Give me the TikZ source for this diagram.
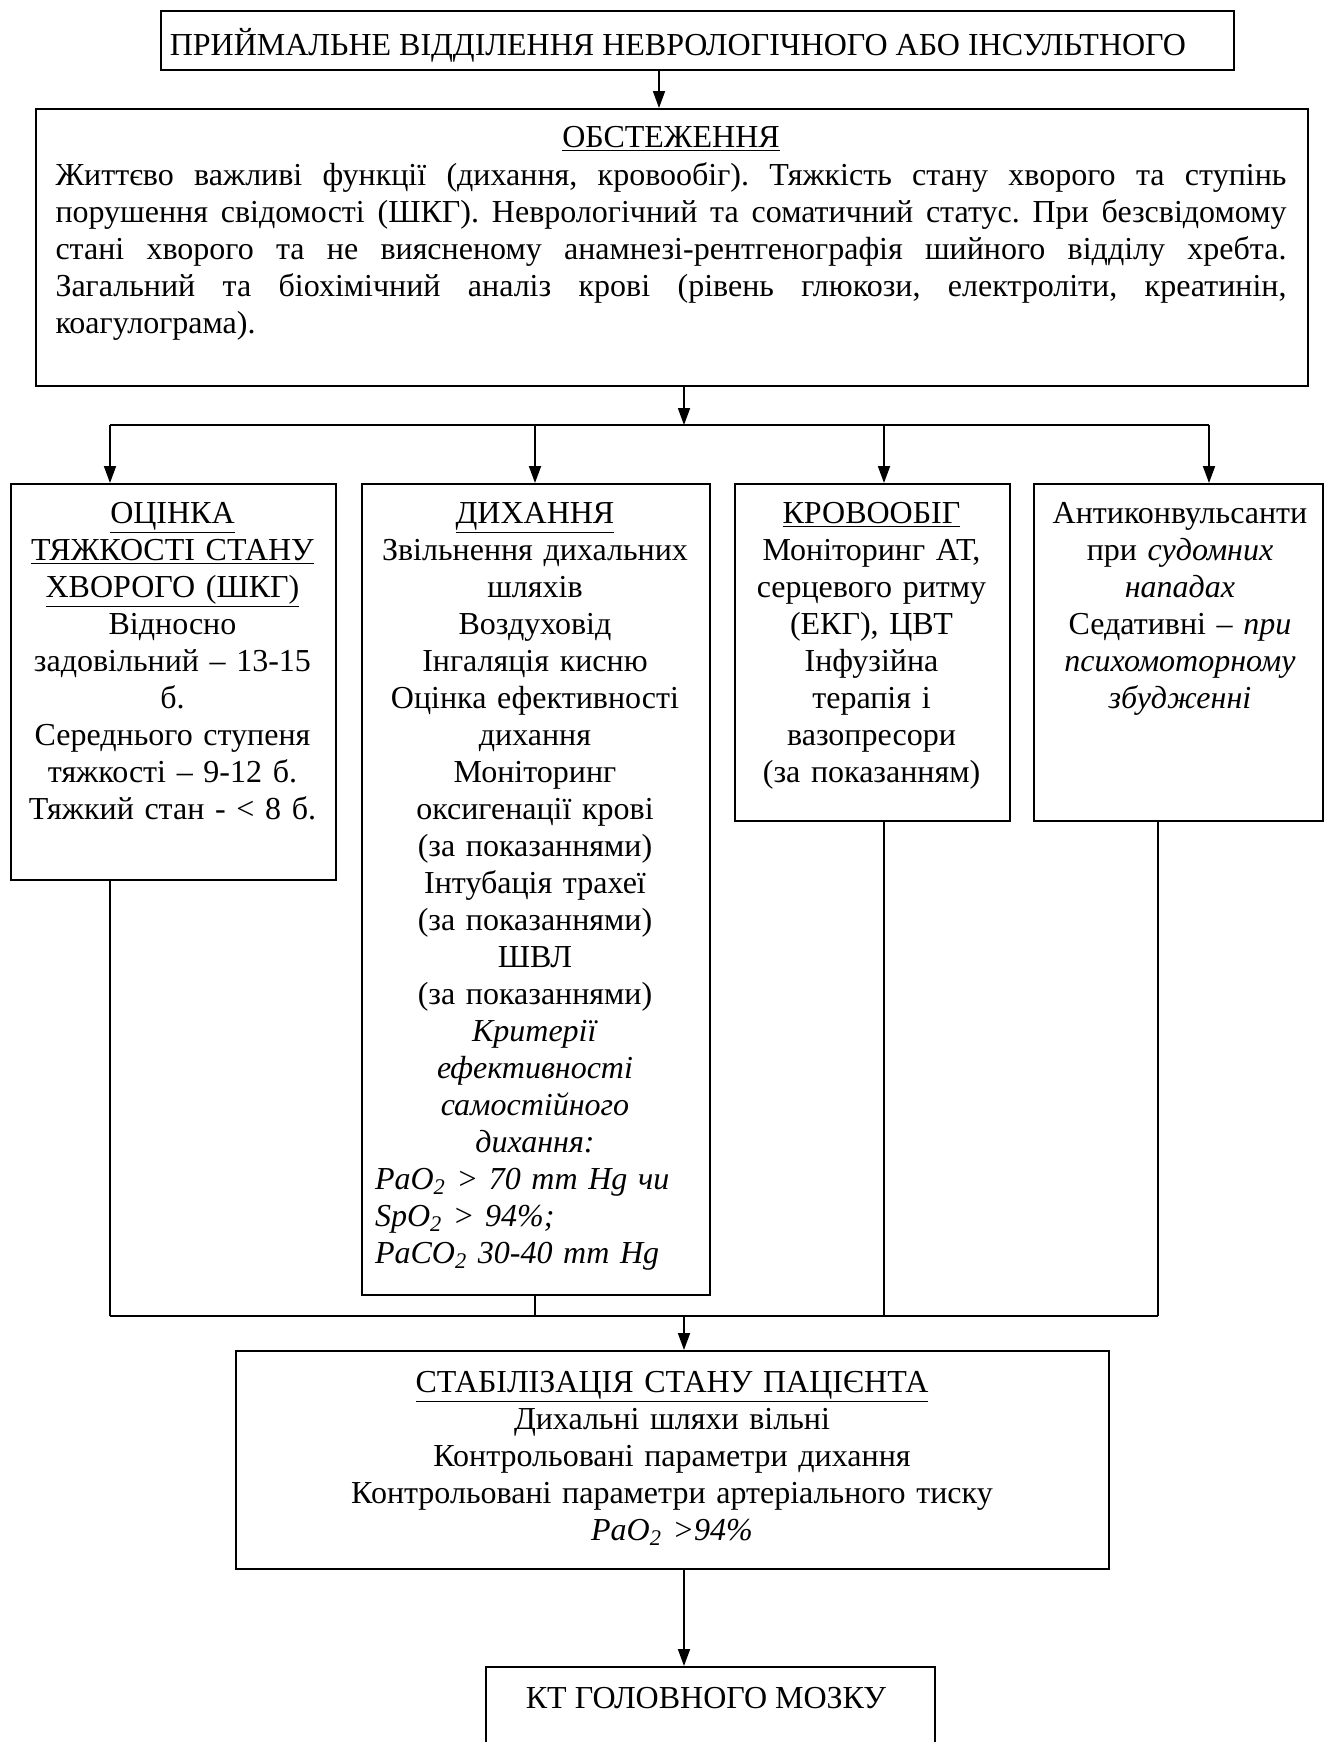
\documentclass[tikz,border=0pt]{standalone}
\usepackage{fontspec}
\setmainfont{Liberation Serif}
\usetikzlibrary{arrows.meta}

\tikzset{
  box/.style={draw, line width=1.1pt, anchor=north west, inner sep=0pt},
  txt/.style={anchor=base, inner sep=0pt, align=center},
  para/.style={txt, text width=#1},
  arr/.style={-{Triangle[length=8.5pt,width=6pt]}, line width=0.9pt},
  wire/.style={line width=0.9pt},
}

\begin{document}
\frenchspacing
\begin{tikzpicture}[x=1pt, y=-1pt, font=\fontsize{16}{18.5}\selectfont]
\useasboundingbox (0,0) rectangle (662,871);

% boxes
\node[box, minimum width=536.5pt, minimum height=29.5pt] (admit) at (80,5) {};
\node[box, minimum width=636pt, minimum height=138.5pt] (exam) at (17.5,54) {};
\node[box, minimum width=162.5pt, minimum height=198pt] (grade) at (5,241.5) {};
\node[box, minimum width=174pt, minimum height=405.5pt] (breath) at (180.5,241.5) {};
\node[box, minimum width=137.5pt, minimum height=168.5pt] (blood) at (367,241.5) {};
\node[box, minimum width=144.5pt, minimum height=168.5pt] (drugs) at (516.5,241.5) {};
\node[box, minimum width=436.5pt, minimum height=109pt] (stab) at (117.5,675) {};
\node[box, minimum width=224.5pt, minimum height=60pt] (ct) at (242.5,833) {};

% texts
\node[txt] (admit-t) at (339,27.5) {ПРИЙМАЛЬНЕ ВІДДІЛЕННЯ НЕВРОЛОГІЧНОГО АБО ІНСУЛЬТНОГО};
\node[txt] (exam-h) at (335.5,73.5) {\underline{ОБСТЕЖЕННЯ}};
\node[para=615.5pt, align=justify] (exam-t) at (335.5,92.5) {Життєво важливі функції (дихання, кровообіг). Тяжкість стану хворого та ступінь\linebreak
  порушення свідомості (ШКГ). Неврологічний та соматичний статус. При безсвідомому\linebreak
  стані хворого та не виясненому анамнезі-рентгенографія шийного відділу хребта.\linebreak
  Загальний та біохімічний аналіз крові (рівень глюкози, електроліти, креатинін,\linebreak
  коагулограма).};
\node[para=152pt] (grade-t) at (86.25,261.5) {\underline{ОЦІНКА}\\ \underline{ТЯЖКОСТІ СТАНУ}\\ \underline{ХВОРОГО (ШКГ)}\\
  Відносно\\ задовільний – 13-15\\ б.\\ Середнього ступеня\\ тяжкості – 9-12 б.\\ Тяжкий стан - < 8 б.};
\node[para=160pt] (breath-t) at (267.5,261.5) {\underline{ДИХАННЯ}\\ Звільнення дихальних\\ шляхів\\ Воздуховід\\
  Інгаляція кисню\\ Оцінка ефективності\\ дихання\\ Моніторинг\\ оксигенації крові\\ (за показаннями)\\
  Інтубація трахеї\\ (за показаннями)\\ ШВЛ\\ (за показаннями)\\ \textit{Критерії}\\ \textit{ефективності}\\
  \textit{самостійного}\\ \textit{дихання:}\par
  \raggedright\itshape PaO\textsubscript{2} > 70 mm Hg чи\\ SpO\textsubscript{2} > 94\%;\\ PaCO\textsubscript{2} 30-40 mm Hg\par};
\node[para=130pt] (blood-t) at (435.75,261.5) {\underline{КРОВООБІГ}\\ Моніторинг АТ,\\ серцевого ритму\\ (ЕКГ), ЦВТ\\
  Інфузійна\\ терапія і\\ вазопресори\\ (за показанням)};
\node[para=140pt] (drugs-t) at (590,261.5) {Антиконвульсанти\\ при \textit{судомних}\\ \textit{нападах}\\
  Седативні – \textit{при}\\ \textit{психомоторному}\\ \textit{збудженні}};
\node[para=420pt] (stab-t) at (336,696) {\underline{СТАБІЛІЗАЦІЯ СТАНУ ПАЦІЄНТА}\\ Дихальні шляхи вільні\\
  Контрольовані параметри дихання\\ Контрольовані параметри артеріального тиску\\ \textit{PaO\textsubscript{2} >94\%}};
\node[txt] (ct-t) at (353,854) {КТ ГОЛОВНОГО МОЗКУ};

% junctions
\coordinate (a0) at (329.5,0);
\coordinate (top) at (342,212.5);
\coordinate (b1) at (55,212.5);
\coordinate (b2) at (267.5,212.5);
\coordinate (b3) at (442,212.5);
\coordinate (b4) at (604.5,212.5);
\coordinate (l1) at (55,658);
\coordinate (l2) at (267.5,658);
\coordinate (l3) at (442,658);
\coordinate (l4) at (579,658);
\coordinate (bot) at (342,658);

% connectors
\draw[arr] (admit.south -| a0) -- (exam.north -| a0);
\draw[arr] (exam.south -| top) -- (top);
\draw[wire] (b1) -- (b4);
\foreach \b/\n in {b1/grade, b2/breath, b3/blood, b4/drugs}
  \draw[arr] (\b) -- (\n.north -| \b);
\foreach \l/\n in {l1/grade, l2/breath, l3/blood, l4/drugs}
  \draw[wire] (\n.south -| \l) -- (\l);
\draw[wire] (l1) -- (l4);
\draw[arr] (bot) -- (stab.north -| bot);
\draw[arr] (stab.south -| bot) -- (ct.north -| bot);
\end{tikzpicture}
\end{document}
